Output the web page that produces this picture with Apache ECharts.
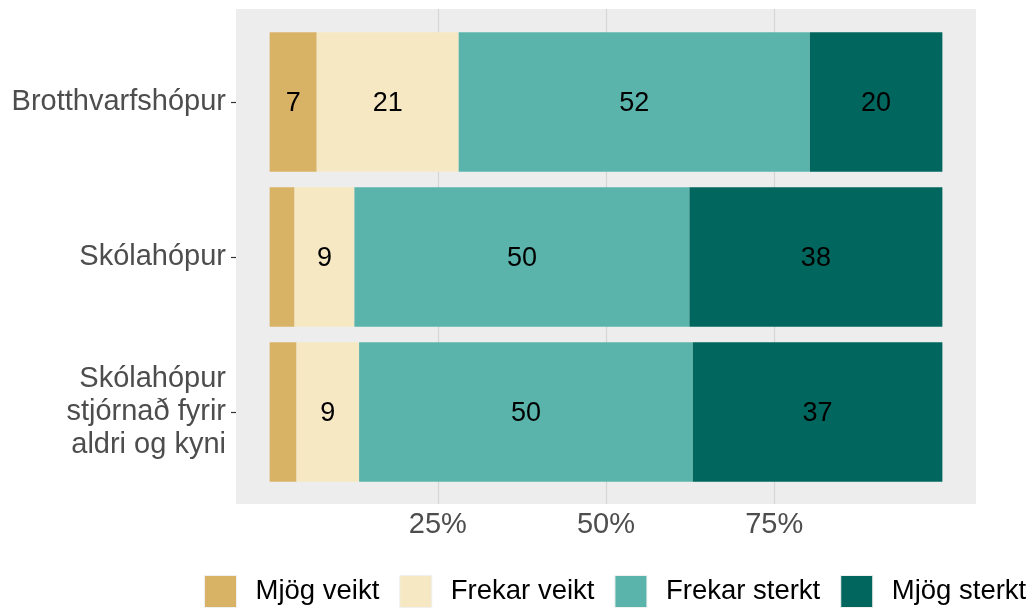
<!DOCTYPE html>
<html>
<head>
<meta charset="utf-8">
<script src="https://cdn.jsdelivr.net/npm/echarts@6/dist/echarts.min.js"></script>
<style>
    html, body { margin: 0; padding: 0; background: #fff; }
    #chart { width: 1033px; height: 610px; }
</style>
</head>
<body>
<div id="chart"></div>
<script>
// hópar (efst til neðst)
const categories = ['Brotthvarfshópur', 'Skólahópur', 'Skólahópur\nstjórnað fyrir\naldri og kyni'];
const seriesNames = ['Mjög veikt', 'Frekar veikt', 'Frekar sterkt', 'Mjög sterkt'];
const seriesColors = ['#D8B365', '#F6E8C3', '#5AB4AC', '#01665E'];
// hlutfall (%) í hverjum hópi
const mjogVeikt = [7.0, 3.7, 4.0];
const frekarVeikt = [21.1, 8.9, 9.3];
const frekarSterkt = [52.2, 49.8, 49.6];
const mjogSterkt = [19.7, 37.6, 37.1];
const xTicks = [25, 50, 75];

const FONT = 'Liberation Sans, Arial, sans-serif';
const values = [mjogVeikt, frekarVeikt, frekarSterkt, mjogSterkt];

const series = seriesNames.map((name, i) => ({
    name: name,
    type: 'bar',
    stack: 'total',
    xAxisIndex: 1,
    yAxisIndex: 1,
    barWidth: '90%',
    itemStyle: { color: seriesColors[i] },
    label: {
        show: true,
        position: 'inside',
        offset: [0, 1.5],
        color: '#000',
        fontSize: 27,
        fontFamily: FONT,
        // litlar tölur ekki merktar
        formatter: p => (p.value < 5 ? '' : String(Math.round(p.value))),
    },
    emphasis: { disabled: true },
    data: values[i],
}));

const chart = echarts.init(document.getElementById('chart'), null, { renderer: 'canvas' });
chart.setOption({
    animation: false,
    textStyle: { fontFamily: FONT },
    grid: [
        {
            left: 236, top: 9, width: 740, height: 495,
            show: true, backgroundColor: '#EDEDED', borderWidth: 0,
        },
        { left: 236, top: 24.5, width: 740, height: 465 },
    ],
    xAxis: [
        {
            gridIndex: 0,
            type: 'value',
            min: -5,
            max: 105,
            axisLine: { show: false },
            axisTick: { show: false, customValues: xTicks },
            axisLabel: {
                customValues: xTicks,
                formatter: '{value}%',
                color: '#4D4D4D',
                fontSize: 29,
                fontFamily: FONT,
                margin: 6,
            },
            splitLine: { show: true, lineStyle: { color: '#D6D6D6', width: 1.2 } },
        },
        { gridIndex: 1, type: 'value', min: -5, max: 105, show: false },
    ],
    yAxis: [
        { gridIndex: 0, type: 'value', show: false, min: 0, max: 1 },
        {
            gridIndex: 1,
            type: 'category',
            inverse: true,
            data: categories,
            axisLine: { show: false, onZero: false },
            axisTick: {
                show: true,
                alignWithLabel: true,
                length: 5,
                lineStyle: { color: '#333', width: 1.2 },
            },
            axisLabel: {
                color: '#4D4D4D',
                fontSize: 29,
                lineHeight: 33,
                fontFamily: FONT,
                margin: 10,
                align: 'right',
                padding: [3, 0, 0, 0],
            },
            splitLine: { show: false },
        },
    ],
    legend: {
        data: seriesNames,
        left: 204,
        top: 575,
        padding: 0,
        itemWidth: 32,
        itemHeight: 32,
        itemGap: 20,
        icon: 'rect',
        itemStyle: { borderColor: '#F0F0F0', borderWidth: 1 },
        textStyle: { color: '#000', fontSize: 27.5, fontFamily: FONT, padding: [0, 0, 0, 14] },
        selectedMode: false,
    },
    series: series,
});
</script>
</body>
</html>
